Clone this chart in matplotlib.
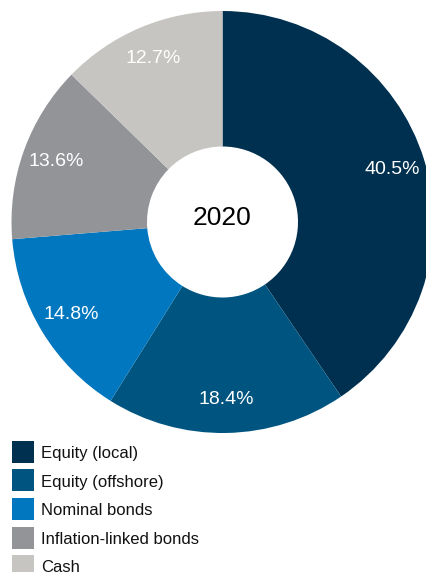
import matplotlib
matplotlib.use("Agg")
import matplotlib.pyplot as plt
from matplotlib.patches import Rectangle

plt.rcParams["font.family"] = ["Liberation Sans", "DejaVu Sans"]

# Asset allocation for the year shown in the centre of the ring
year = "2020"
categories = ["Equity (local)", "Equity (offshore)", "Nominal bonds",
              "Inflation-linked bonds", "Cash"]
shares = [40.5, 18.4, 14.8, 13.6, 12.7]
colors = ["#00304f", "#005580", "#0077be", "#939498", "#c6c5c1"]

W, H = 426, 572
fig = plt.figure(figsize=(W / 100, H / 100), dpi=100)
ax = fig.add_axes([0, 0, 1, 1])

# work in pixel units, origin bottom-left
cx, cy = 222.5, H - 222
r_out, r_in = 211, 75.5

wedges, texts, autotexts = ax.pie(
    shares,
    colors=colors,
    startangle=90,
    counterclock=False,
    radius=r_out,
    center=(cx, cy),
    wedgeprops=dict(width=r_out - r_in, linewidth=0),
    autopct="%.1f%%",
    pctdistance=0.84,
    textprops=dict(color="white", fontsize=14),
)

ax.text(cx, H - 218, year, ha="center", va="center", fontsize=19, color="black")

ax.set_xlim(0, W)
ax.set_ylim(0, H)
ax.set_aspect("auto")
ax.axis("off")

# legend: square swatch + label, one row per category
sq = 22
row0, pitch = 451.7, 28.6
for i, (name, c) in enumerate(zip(categories, colors)):
    yc = H - (row0 + i * pitch)
    ax.add_patch(Rectangle((12, yc - sq / 2), sq, sq, facecolor=c,
                           edgecolor="none", clip_on=False))
    ax.text(41, yc - 6.3, name, ha="left", va="baseline",
            fontsize=12, color="#111111")

fig.savefig("out.png", dpi=100)
